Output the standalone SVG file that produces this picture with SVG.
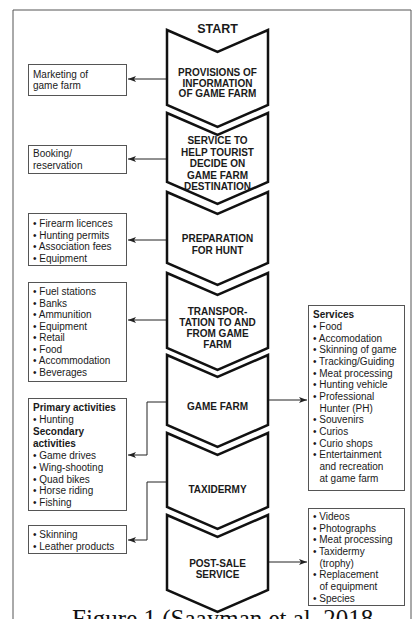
<svg xmlns="http://www.w3.org/2000/svg" width="414" height="619" viewBox="0 0 414 619">
<style>
.frame{fill:none;stroke:#555;stroke-width:1}
.chev{fill:#fff;stroke:#111;stroke-width:2.5;stroke-linejoin:miter}
.ct{font-family:"Liberation Sans",Arial,sans-serif;font-weight:bold;font-size:10px;fill:#1a1a1a;text-anchor:middle}
.box{fill:#fff;stroke:#555;stroke-width:1}
.bt{font-family:"Liberation Sans",Arial,sans-serif;font-size:10px;fill:#1a1a1a}
.b{font-weight:bold}
.conn{fill:none;stroke:#222;stroke-width:1}
.cap{font-family:"Liberation Serif","Times New Roman",serif;font-size:25px;fill:#111}
</style>
<defs>
<marker id="ah" markerWidth="9" markerHeight="7" refX="8" refY="3" orient="auto" markerUnits="userSpaceOnUse">
<path d="M0,0 L8,3 L0,6 L2,3 z" fill="#222"/>
</marker>
</defs>
<path class="frame" d="M13,630 V10 H411 V630"/>

<g id="connectors">
<path class="conn" d="M167,79 H128" marker-end="url(#ah)"/>
<path class="conn" d="M167,159 H128" marker-end="url(#ah)"/>
<path class="conn" d="M167,240 H128" marker-end="url(#ah)"/>
<path class="conn" d="M167,320 H128" marker-end="url(#ah)"/>
<path class="conn" d="M167,402 H147 V455 H128" marker-end="url(#ah)"/>
<path class="conn" d="M167,482 H147 V540 H128" marker-end="url(#ah)"/>
<path class="conn" d="M268,400 H307" marker-end="url(#ah)"/>
<path class="conn" d="M268,562 H307" marker-end="url(#ah)"/>
</g>

<g id="step1">
<polygon class="chev" points="167,30 217.5,52 268,30 268,105 217.5,127 167,105"/>
<text class="ct" x="217.5" y="33" style="font-size:12.5px">START</text>
<text class="ct" x="217.5" y="76">PROVISIONS OF</text>
<text class="ct" x="217.5" y="86.5">INFORMATION</text>
<text class="ct" x="217.5" y="97">OF GAME FARM</text>
</g>
<g id="step2">
<polygon class="chev" points="167,113 217.5,135 268,113 268,182 217.5,204 167,182"/>
<text class="ct" x="217.5" y="144">SERVICE TO</text>
<text class="ct" x="217.5" y="155.5">HELP TOURIST</text>
<text class="ct" x="217.5" y="167">DECIDE ON</text>
<text class="ct" x="217.5" y="178.5">GAME FARM</text>
<text class="ct" x="217.5" y="190">DESTINATION</text>
</g>
<g id="step3">
<polygon class="chev" points="167,192 217.5,214 268,192 268,263 217.5,285 167,263"/>
<text class="ct" x="217.5" y="242">PREPARATION</text>
<text class="ct" x="217.5" y="253.5">FOR HUNT</text>
</g>
<g id="step4">
<polygon class="chev" points="167,273 217.5,295 268,273 268,348 217.5,370 167,348"/>
<text class="ct" x="217.5" y="314.5">TRANSPOR-</text>
<text class="ct" x="217.5" y="326">TATION TO AND</text>
<text class="ct" x="217.5" y="337">FROM GAME</text>
<text class="ct" x="217.5" y="348">FARM</text>
</g>
<g id="step5">
<polygon class="chev" points="167,355 217.5,377 268,355 268,425 217.5,447 167,425"/>
<text class="ct" x="217.5" y="410">GAME FARM</text>
</g>
<g id="step6">
<polygon class="chev" points="167,433 217.5,455 268,433 268,507 217.5,529 167,507"/>
<text class="ct" x="217.5" y="493">TAXIDERMY</text>
</g>
<g id="step7">
<polygon class="chev" points="167,515 217.5,537 268,515 268,590 217.5,612 167,590"/>
<text class="ct" x="217.5" y="566.5">POST-SALE</text>
<text class="ct" x="217.5" y="578">SERVICE</text>
</g>

<g id="marketing">
<rect class="box" x="28.5" y="64.5" width="98" height="31"/>
<text class="bt" x="33" y="77.5">Marketing of</text>
<text class="bt" x="33" y="88.5">game farm</text>
</g>
<g id="booking">
<rect class="box" x="28.5" y="145.5" width="98" height="28"/>
<text class="bt" x="33" y="157">Booking/</text>
<text class="bt" x="33" y="168.5">reservation</text>
</g>
<g id="preparation-items">
<rect class="box" x="28.5" y="213.5" width="98" height="52"/>
<text class="bt" x="33" y="227">• Firearm licences</text>
<text class="bt" x="33" y="238.5">• Hunting permits</text>
<text class="bt" x="33" y="250">• Association fees</text>
<text class="bt" x="33" y="261.5">• Equipment</text>
</g>
<g id="transport-items">
<rect class="box" x="28.5" y="282.5" width="98" height="99"/>
<text class="bt" x="33" y="295">• Fuel stations</text>
<text class="bt" x="33" y="306.5">• Banks</text>
<text class="bt" x="33" y="318">• Ammunition</text>
<text class="bt" x="33" y="329.5">• Equipment</text>
<text class="bt" x="33" y="341">• Retail</text>
<text class="bt" x="33" y="352.5">• Food</text>
<text class="bt" x="33" y="364">• Accommodation</text>
<text class="bt" x="33" y="375.5">• Beverages</text>
</g>
<g id="activities">
<rect class="box" x="28.5" y="398.5" width="98" height="112"/>
<text class="bt b" x="33" y="411">Primary activities</text>
<text class="bt" x="33" y="423">• Hunting</text>
<text class="bt b" x="33" y="435">Secondary</text>
<text class="bt b" x="33" y="447">activities</text>
<text class="bt" x="33" y="459">• Game drives</text>
<text class="bt" x="33" y="471">• Wing-shooting</text>
<text class="bt" x="33" y="482.5">• Quad bikes</text>
<text class="bt" x="33" y="494">• Horse riding</text>
<text class="bt" x="33" y="506">• Fishing</text>
</g>
<g id="taxidermy-items">
<rect class="box" x="28.5" y="525.5" width="98" height="28"/>
<text class="bt" x="33" y="538">• Skinning</text>
<text class="bt" x="33" y="549.5">• Leather products</text>
</g>
<g id="services">
<rect class="box" x="308.5" y="305.5" width="96" height="185"/>
<text class="bt b" x="313" y="318">Services</text>
<text class="bt" x="313" y="330">• Food</text>
<text class="bt" x="313" y="341.5">• Accomodation</text>
<text class="bt" x="313" y="353">• Skinning of game</text>
<text class="bt" x="313" y="365">• Tracking/Guiding</text>
<text class="bt" x="313" y="376.5">• Meat processing</text>
<text class="bt" x="313" y="388">• Hunting vehicle</text>
<text class="bt" x="313" y="400">• Professional</text>
<text class="bt" x="319.5" y="411.5">Hunter (PH)</text>
<text class="bt" x="313" y="423">• Souvenirs</text>
<text class="bt" x="313" y="435">• Curios</text>
<text class="bt" x="313" y="446.5">• Curio shops</text>
<text class="bt" x="313" y="458">• Entertainment</text>
<text class="bt" x="319.5" y="470">and recreation</text>
<text class="bt" x="319.5" y="481.5">at game farm</text>
</g>
<g id="post-sale-items">
<rect class="box" x="308.5" y="508.5" width="96" height="97"/>
<text class="bt" x="313" y="520">• Videos</text>
<text class="bt" x="313" y="531.5">• Photographs</text>
<text class="bt" x="313" y="543">• Meat processing</text>
<text class="bt" x="313" y="555">• Taxidermy</text>
<text class="bt" x="319.5" y="566.5">(trophy)</text>
<text class="bt" x="313" y="578">• Replacement</text>
<text class="bt" x="319.5" y="589.5">of equipment</text>
<text class="bt" x="313" y="601.5">• Species</text>
</g>
<text class="cap" x="72" y="627">Figure 1 (Saayman et al. 2018</text>
</svg>
